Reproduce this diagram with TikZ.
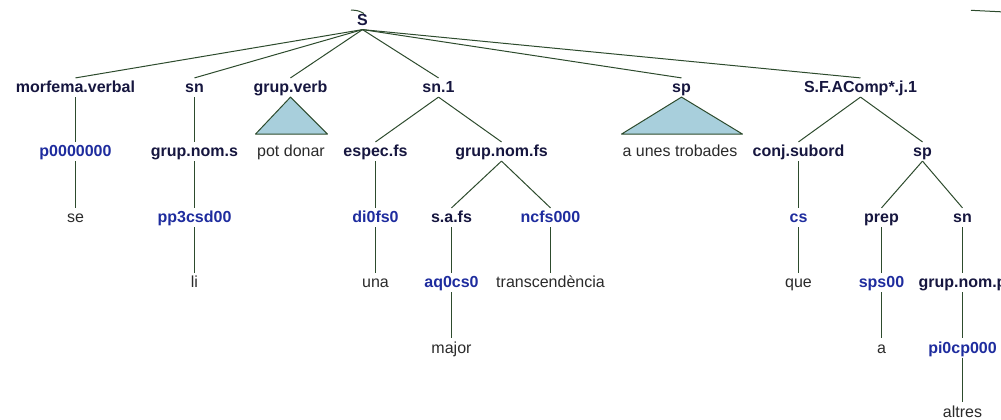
\documentclass[tikz,border=0pt]{standalone}
\usepackage{fontspec}
\setmainfont{Liberation Sans}
\definecolor{edgegreen}{HTML}{2D4B2D}
\definecolor{catnavy}{HTML}{16163F}
\definecolor{tagblue}{HTML}{1E2C9E}
\definecolor{wordgray}{HTML}{2A2A2A}
\definecolor{trifill}{HTML}{A8CFDC}

\begin{document}
\begin{tikzpicture}[x=0.75pt, y=-0.75pt,
    lab/.style={inner xsep=1pt, inner ysep=0pt, text height=11pt, text depth=3pt, font=\fontsize{12}{14}\selectfont},
    cat/.style={lab, text=catnavy, font=\fontsize{12}{14}\selectfont\bfseries},
    tag/.style={lab, text=tagblue, font=\fontsize{12}{14}\selectfont\bfseries},
    word/.style={lab, text=wordgray},
    branch/.style={draw=edgegreen, line width=0.75pt},
    roof/.style={draw=edgegreen, line width=0.75pt, fill=trifill, line join=round}]
    \useasboundingbox (0, 0) rectangle (1001, 419);
    % Nodes, by level:
        \node[cat](S) at (362.5, 20){S};
        \node[cat](MV) at (75.5, 87.5){morfema.verbal};
        \node[cat](SNa) at (194.5, 87.5){sn};
        \node[cat](GV) at (290.5, 87.5){grup.verb};
        \node[cat](SN1) at (438.5, 87.5){sn.1};
        \node[cat](SPa) at (681.5, 87.5){sp};
        \node[cat](SF) at (860.5, 87.5){S.F.AComp*.j.1};
        \node[tag](P0) at (75.5, 151.5){p0000000};
        \node[cat](GNS) at (194.5, 151.5){grup.nom.s};
        \node[word](PD) at (291, 151.5){pot donar};
        \node[cat](EF) at (375.5, 151.5){espec.fs};
        \node[cat](GNF) at (501.5, 151.5){grup.nom.fs};
        \node[word](AUT) at (680, 151.5){a unes trobades};
        \node[cat](CJ) at (798.5, 151.5){conj.subord};
        \node[cat](SPb) at (922.5, 151.5){sp};
        \node[word](SE) at (75.5, 217.5){se};
        \node[tag](PP) at (194.5, 217.5){pp3csd00};
        \node[tag](DI) at (375.5, 217.5){di0fs0};
        \node[cat](SAF) at (451.5, 217.5){s.a.fs};
        \node[tag](NC) at (550.5, 217.5){ncfs000};
        \node[tag](CS) at (798.5, 217.5){cs};
        \node[cat](PR) at (881.5, 217.5){prep};
        \node[cat](SNb) at (962.5, 217.5){sn};
        \node[word](LI) at (194.5, 282.5){li};
        \node[word](UNA) at (375.5, 282.5){una};
        \node[tag](AQ) at (451.5, 282.5){aq0cs0};
        \node[word](TR) at (550.5, 282.5){transcendència};
        \node[word](QUE) at (798.5, 282.5){que};
        \node[tag](SPS) at (881.5, 282.5){sps00};
        \node[cat](GNP) at (962.5, 282.5){grup.nom.p};
        \node[word](MAJ) at (451.5, 348){major};
        \node[word](A) at (881.5, 348){a};
        \node[tag](PI) at (962.5, 348){pi0cp000};
        \node[word](ALT) at (962.5, 412){altres};
    % Branches:
        \foreach \kid in {MV, SNa, GV, SN1, SPa, SF}
            \draw[branch] (S.south) -- (\kid.north);
        \draw[branch] (MV) -- (P0);
        \draw[branch] (P0) -- (SE);
        \draw[branch] (SNa) -- (GNS);
        \draw[branch] (GNS) -- (PP);
        \draw[branch] (PP) -- (LI);
        \draw[branch] (SN1.south) -- (EF.north);
        \draw[branch] (SN1.south) -- (GNF.north);
        \draw[branch] (EF) -- (DI);
        \draw[branch] (DI) -- (UNA);
        \draw[branch] (GNF.south) -- (SAF.north);
        \draw[branch] (GNF.south) -- (NC.north);
        \draw[branch] (SAF) -- (AQ);
        \draw[branch] (AQ) -- (MAJ);
        \draw[branch] (NC) -- (TR);
        \draw[branch] (SF.south) -- (CJ.north);
        \draw[branch] (SF.south) -- (SPb.north);
        \draw[branch] (CJ) -- (CS);
        \draw[branch] (CS) -- (QUE);
        \draw[branch] (SPb.south) -- (PR.north);
        \draw[branch] (SPb.south) -- (SNb.north);
        \draw[branch] (PR) -- (SPS);
        \draw[branch] (SPS) -- (A);
        \draw[branch] (SNb) -- (GNP);
        \draw[branch] (GNP) -- (PI);
        \draw[branch] (PI) -- (ALT);
    % Roofs over collapsed phrases:
        \draw[roof] (GV.south) -- ++(-35, 37) -- ++(72, 0) -- cycle;
        \draw[roof] (SPa.south) -- ++(-60, 37) -- ++(121, 0) -- cycle;
    % Stray strokes at the top:
        \coordinate (arcA) at (351, 10);
        \coordinate (arcB) at (364, 13.5);
        \draw[branch] (arcA) .. controls (358, 10.5) .. (arcB);
        \coordinate (topA) at (971, 10.3);
        \coordinate (topB) at (1001, 11.8);
        \draw[branch] (topA) -- (topB);
\end{tikzpicture}
\end{document}
